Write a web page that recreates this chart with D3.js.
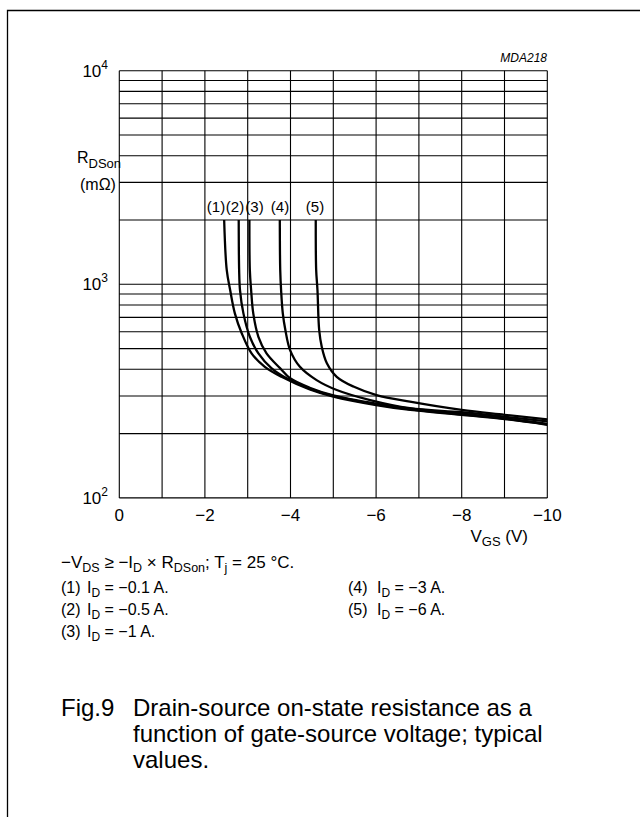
<!DOCTYPE html>
<html>
<head>
<meta charset="utf-8">
<script src="https://cdn.jsdelivr.net/npm/d3@7"></script>
<style>
  html, body { margin: 0; padding: 0; background: #fff; }
  svg { display: block; }
  text { font-family: "Liberation Sans", Arial, sans-serif; fill: #000; }
</style>
</head>
<body>
<svg id="chart" width="640" height="817"></svg>
<script>
// ---- data (V_GS in volts, R_DSon in mΩ) ----
const curveNames = ["(1)", "(2)", "(3)", "(4)", "(5)"];
const vgs1 = [-2.45, -2.51, -2.59, -2.70, -2.86, -3.09, -3.40, -3.79, -4.45, -5.0, -6.0, -6.8, -8.0, -9.0, -10.0];
const rds1 = [2000, 1167, 940, 731, 590, 475, 411, 369, 322, 298, 272, 258, 245, 234, 220];
const vgs2 = [-2.79, -2.80, -2.82, -2.90, -3.05, -3.25, -3.56, -3.91, -4.45, -5.0, -6.0, -6.8, -8.0, -9.0, -10.0];
const rds2 = [2000, 1167, 940, 731, 568, 475, 404, 363, 325, 300, 274, 260, 246, 235, 221];
const vgs3 = [-3.04, -3.05, -3.08, -3.13, -3.25, -3.44, -3.76, -3.99, -4.45, -5.0, -6.0, -6.8, -8.0, -9.0, -10.0];
const rds3 = [2000, 1167, 940, 731, 568, 475, 404, 363, 328, 302, 276, 262, 248, 236, 222];
const vgs4 = [-3.75, -3.76, -3.78, -3.82, -3.88, -3.99, -4.22, -4.61, -5.08, -5.86, -6.79, -8.0, -9.0, -10.0];
const rds4 = [2000, 1167, 940, 731, 611, 492, 411, 356, 320, 287, 263, 252, 240, 228];
const vgs5 = [-4.59, -4.60, -4.63, -4.67, -4.73, -4.85, -5.08, -5.47, -6.01, -6.79, -8.0, -9.0, -10.0];
const rds5 = [2000, 1167, 940, 611, 510, 427, 369, 332, 303, 282, 258, 245, 233];
const xTicks = [0, -2, -4, -6, -8, -10];
const yDecades = [2, 3, 4];
const legendLeft = [["(1)", "−0.1 A."], ["(2)", "−0.5 A."], ["(3)", "−1 A."]];
const legendRight = [["(4)", "−3 A."], ["(5)", "−6 A."]];
const captionLines = ["Drain-source on-state resistance as a", "function of gate-source voltage; typical", "values."];

const series = [[vgs1, rds1], [vgs2, rds2], [vgs3, rds3], [vgs4, rds4], [vgs5, rds5]];

const svg = d3.select("#chart");

// frame
svg.append("path").attr("d", "M7.5,817 V10.5 H640").attr("fill", "none").attr("stroke", "#000").attr("stroke-width", 1.3);

const L = 119.3, R = 547.3, T = 70.7, B = 497.9;
const x = d3.scaleLinear().domain([0, -10]).range([L, R]);
const y = d3.scaleLog().domain([100, 10000]).range([B, T]);

const g = svg.append("g");

// grid vertical
g.selectAll("line.v").data(d3.range(0, -11, -1)).enter().append("line")
  .attr("x1", d => x(d)).attr("x2", d => x(d)).attr("y1", T).attr("y2", B)
  .attr("stroke", "#000").attr("stroke-width", 1.1);
// grid horizontal
g.selectAll("line.h").data(y.ticks()).enter().append("line")
  .attr("x1", L).attr("x2", R).attr("y1", d => y(d)).attr("y2", d => y(d))
  .attr("stroke", "#000").attr("stroke-width", 1.1);

// curves
svg.append("clipPath").attr("id", "clip").append("rect")
  .attr("x", L).attr("y", T).attr("width", R - L).attr("height", B - T);
const line = d3.line().x(d => x(d[0])).y(d => y(d[1])).curve(d3.curveCatmullRom.alpha(0.5));
svg.append("g").attr("clip-path", "url(#clip)").selectAll("path").data(series).enter().append("path")
  .attr("d", s => line(s[0].map((v, i) => [v, s[1][i]])))
  .attr("fill", "none").attr("stroke", "#000").attr("stroke-width", 2.3).attr("stroke-linejoin", "round");

// curve labels
const labelX = [216, 235, 254.5, 280, 315];
svg.selectAll("text.cl").data(curveNames).enter().append("text")
  .attr("x", (d, i) => labelX[i]).attr("y", 212).attr("text-anchor", "middle")
  .attr("font-size", 15).text(d => d);

// x tick labels
svg.selectAll("text.xt").data(xTicks).enter().append("text")
  .attr("x", d => x(d)).attr("y", 521).attr("text-anchor", "middle").attr("font-size", 17)
  .text(d => d3.format("d")(d));

// y tick labels
yDecades.forEach(p => {
  const t = svg.append("text").attr("x", 108).attr("y", y(Math.pow(10, p)) + 6).attr("text-anchor", "end").attr("font-size", 17);
  t.append("tspan").text("10");
  t.append("tspan").attr("dy", -8).attr("font-size", 12).text(p);
});

// y axis title
const yt = svg.append("text").attr("x", 77).attr("y", 163).attr("font-size", 16);
yt.append("tspan").text("R");
yt.append("tspan").attr("dy", 5).attr("font-size", 13).text("DSon");
svg.append("text").attr("x", 80).attr("y", 190).attr("font-size", 16).text("(mΩ)");

// x axis title
const xt = svg.append("text").attr("x", 528).attr("y", 542).attr("text-anchor", "end").attr("font-size", 17);
xt.append("tspan").text("V");
xt.append("tspan").attr("dy", 4).attr("font-size", 13).text("GS");
xt.append("tspan").attr("dy", -4).text(" (V)");

// MDA code
svg.append("text").attr("x", 547).attr("y", 62).attr("text-anchor", "end").attr("font-size", 12)
  .attr("font-style", "italic").text("MDA218");

// conditions line
const c = svg.append("text").attr("x", 61).attr("y", 568).attr("font-size", 17);
c.append("tspan").text("−V");
c.append("tspan").attr("dy", 4).attr("font-size", 12.5).text("DS");
c.append("tspan").attr("dy", -4).text(" ≥ −I");
c.append("tspan").attr("dy", 4).attr("font-size", 12.5).text("D");
c.append("tspan").attr("dy", -4).text(" × R");
c.append("tspan").attr("dy", 4).attr("font-size", 12.5).text("DSon");
c.append("tspan").attr("dy", -4).text("; T");
c.append("tspan").attr("dy", 4).attr("font-size", 12.5).text("j");
c.append("tspan").attr("dy", -4).text(" = 25 °C.");

function legendItem(xn, xi, yy, item) {
  svg.append("text").attr("x", xn).attr("y", yy).attr("font-size", 16).text(item[0]);
  const t = svg.append("text").attr("x", xi).attr("y", yy).attr("font-size", 16);
  t.append("tspan").text("I");
  t.append("tspan").attr("dy", 4).attr("font-size", 12).text("D");
  t.append("tspan").attr("dy", -4).text(" = " + item[1]);
}
legendLeft.forEach((it, i) => legendItem(61, 87, 593 + i * 22, it));
legendRight.forEach((it, i) => legendItem(348, 377, 593 + i * 22, it));

// caption
svg.append("text").attr("x", 61).attr("y", 716).attr("font-size", 24).text("Fig.9");
captionLines.forEach((s, i) => {
  svg.append("text").attr("x", 133).attr("y", 716 + i * 26).attr("font-size", 24).text(s);
});
</script>
</body>
</html>
